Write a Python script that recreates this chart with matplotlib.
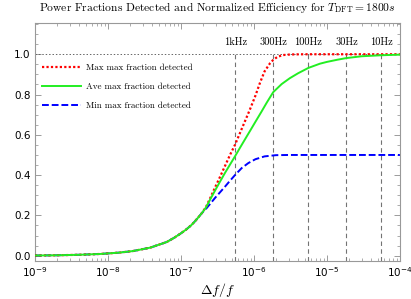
import matplotlib
matplotlib.use("Agg")
import matplotlib.pyplot as plt
import numpy as np
from matplotlib.ticker import LogLocator, MultipleLocator, FormatStrFormatter, NullFormatter

plt.rcParams['mathtext.fontset'] = 'cm'

# ---- data ----
x_common = [1e-9, 2e-9, 4e-9, 7.8e-9, 1.4e-8, 2.2e-8, 3.8e-8, 6.4e-8, 8e-8,
            1e-7, 1.2e-7, 1.4e-7, 1.55e-7, 1.73e-7, 1.95e-7]
y_common = [0.001, 0.002, 0.0045, 0.0085, 0.015, 0.023, 0.04, 0.068, 0.088,
            0.111, 0.132, 0.153, 0.17, 0.19, 0.213]

x_max = [2.2e-7, 2.55e-7, 2.92e-7, 3.4e-7, 4e-7, 4.7e-7, 5.5e-7, 7e-7, 8.8e-7,
         1.05e-6, 1.21e-6, 1.4e-6, 1.66e-6, 1.84e-6, 2.1e-6, 2.5e-6, 3.2e-6, 5e-6, 1e-4]
y_max = [0.241, 0.29, 0.337, 0.388, 0.444, 0.5, 0.55, 0.64, 0.725,
         0.795, 0.858, 0.915, 0.955, 0.972, 0.987, 0.996, 0.999, 1.0, 1.0]

x_ave = [2.2e-7, 2.55e-7, 2.92e-7, 3.4e-7, 4e-7, 4.7e-7, 5.5e-7, 6.5e-7, 7.5e-7, 9e-7,
         1.05e-6, 1.27e-6, 1.5e-6, 1.84e-6, 2.4e-6, 3.1e-6, 4e-6, 5.56e-6,
         8e-6, 1e-5, 1.4e-5, 1.85e-5, 3e-5, 5.56e-5, 1e-4]
y_ave = [0.239, 0.283, 0.322, 0.365, 0.41, 0.452, 0.493, 0.538, 0.576, 0.624,
         0.665, 0.715, 0.76, 0.812, 0.852, 0.881, 0.905, 0.932,
         0.953, 0.962, 0.973, 0.981, 0.99, 0.995, 0.998]

x_min = [2.2e-7, 2.55e-7, 2.92e-7, 3.4e-7, 4e-7, 4.7e-7, 5.5e-7, 6.8e-7, 8.4e-7,
         1.05e-6, 1.4e-6, 2e-6, 3e-6, 1e-4]
y_min = [0.232, 0.26, 0.286, 0.313, 0.342, 0.372, 0.40, 0.435, 0.46,
         0.479, 0.493, 0.499, 0.5, 0.5]

freq_labels = ["1kHz", "300Hz", "100Hz", "30Hz", "10Hz"]
freqs_hz = [1000, 300, 100, 30, 10]
T_dft = 1800.0

series_names = ["Max max fraction detected", "Ave max fraction detected",
                "Min max fraction detected"]

# ---- figure ----
fig = plt.figure(figsize=(4.11, 2.99), dpi=100)
ax = fig.add_axes([0.085, 0.128, 0.888, 0.795])

xm = x_common + x_max
ym = y_common + y_max
xa = x_common + x_ave
ya = y_common + y_ave
xn = x_common + x_min
yn = y_common + y_min

ax.plot(xn, yn, color='#0000ff', ls=(0, (3.5, 1.5)), lw=1.4, label=series_names[2], zorder=3)
ax.plot(xm, ym, color='#ff0000', ls=(0, (1, 1)), lw=1.6, label=series_names[0], zorder=4)
ax.plot(xa, ya, color='#22ee22', ls='-', lw=1.4, label=series_names[1], zorder=5)

ax.set_xscale('log')
ax.set_xlim(1e-9, 1e-4)
ax.set_ylim(-0.025, 1.155)

ax.axhline(1.0, color='0.4', ls=(0, (1.5, 2)), lw=0.7, zorder=2)
for f, lab in zip(freqs_hz, freq_labels):
    xv = 1.0 / (T_dft * f)
    ax.plot([xv, xv], [-0.025, 1.0], color='0.45', ls=(0, (4, 3)), lw=0.8, zorder=2)
    ax.text(xv, 1.058, lab, ha='center', va='center', fontsize=7.5, family='cmr10')

# ticks
ax.xaxis.set_major_locator(LogLocator(base=10, numticks=10))
ax.xaxis.set_minor_locator(LogLocator(base=10, subs=np.arange(2, 10), numticks=20))
ax.xaxis.set_minor_formatter(NullFormatter())
ax.yaxis.set_major_locator(MultipleLocator(0.2))
ax.yaxis.set_minor_locator(MultipleLocator(0.05))
ax.yaxis.set_major_formatter(FormatStrFormatter('%.1f'))
ax.tick_params(which='both', direction='in', top=True, right=True, color='0.55',
               labelsize=7.5, labelcolor='black', pad=3)
ax.tick_params(which='major', length=4, width=0.6)
ax.tick_params(which='minor', length=2, width=0.5)
for s in ax.spines.values():
    s.set_color('0.6')
    s.set_linewidth(0.8)

# reorder legend
h, l = ax.get_legend_handles_labels()
order = [1, 2, 0]
leg = ax.legend([h[i] for i in order], [l[i] for i in order], loc='upper left',
                bbox_to_anchor=(0.0, 0.86), frameon=False,
                prop={'family': 'cmr10', 'size': 6.5}, handlelength=4.3,
                labelspacing=1.2, handletextpad=0.6, borderaxespad=0.4)

ax.set_xlabel(r'$\Delta f/f$', fontsize=10, labelpad=2)
ax.set_title(r'Power Fractions Detected and Normalized Efficiency for $T_{\rm DFT}=1800s$',
             fontsize=8.3, family='cmr10', pad=9)

fig.savefig('out.png', dpi=100)
